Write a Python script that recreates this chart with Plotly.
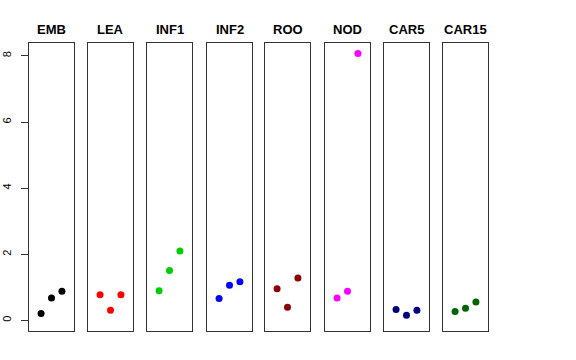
import plotly.graph_objects as go

categories = ["EMB", "LEA", "INF1", "INF2", "ROO", "NOD", "CAR5", "CAR15"]
values = {
    "EMB": [0.21, 0.68, 0.88],
    "LEA": [0.78, 0.31, 0.78],
    "INF1": [0.90, 1.51, 2.10],
    "INF2": [0.66, 1.06, 1.17],
    "ROO": [0.96, 0.40, 1.28],
    "NOD": [0.68, 0.88, 8.07],
    "CAR5": [0.33, 0.16, 0.31],
    "CAR15": [0.27, 0.37, 0.56],
}
replicates = [1, 2, 3]
colors = ["#000000", "#FF0000", "#00CD00", "#0000FF", "#8B0000", "#FF00FF", "#000080", "#006400"]
y_ticks = [0, 2, 4, 6, 8]

W, H = 576, 360
panel_left = [29, 88, 147, 207, 265, 325, 384, 443]
panel_w = 45
top_px, bot_px = 43, 331
title_px = 29

fig = go.Figure()
layout = dict(
    width=W, height=H,
    margin=dict(l=0, r=0, t=0, b=0, autoexpand=False),
    plot_bgcolor="white", paper_bgcolor="white",
    showlegend=False,
    template="none",
    font=dict(family="Liberation Sans, Arial, sans-serif", color="black"),
)
annotations = []
for i, cat in enumerate(categories):
    xa = "xaxis" if i == 0 else f"xaxis{i+1}"
    ya = "yaxis" if i == 0 else f"yaxis{i+1}"
    xr = "x" if i == 0 else f"x{i+1}"
    yr = "y" if i == 0 else f"y{i+1}"
    x0 = panel_left[i] / W
    x1 = (panel_left[i] + panel_w) / W
    layout[xa] = dict(domain=[x0, x1], range=[-0.16, 4.16], showgrid=False, zeroline=False,
                      showticklabels=False, ticks="", showline=True, mirror=True,
                      linecolor="#333333", linewidth=1, anchor=yr, fixedrange=True,
                      automargin=False)
    ydict = dict(domain=[1 - bot_px / H, 1 - top_px / H], range=[-0.32, 8.39],
                 showgrid=False, zeroline=False, showline=True, mirror=True,
                 linecolor="#333333", linewidth=1, anchor=xr, automargin=False)
    if i == 0:
        ydict.update(tickvals=y_ticks, ticktext=[str(v) for v in y_ticks], ticks="outside",
                     ticklen=7, tickcolor="#333333", tickangle=-90, ticklabelstandoff=6,
                     tickfont=dict(size=11, color="black"))
    else:
        ydict.update(showticklabels=False, ticks="")
    layout[ya] = ydict
    fig.add_trace(go.Scatter(x=replicates, y=values[cat], mode="markers",
                             marker=dict(color=colors[i], size=7),
                             xaxis=xr, yaxis=yr, hoverinfo="y"))
    annotations.append(dict(x=(x0 + x1) / 2, y=1 - title_px / H, xref="paper", yref="paper",
                            text=f"<b>{cat}</b>", showarrow=False,
                            font=dict(size=13, color="black"), xanchor="center", yanchor="middle"))
layout["annotations"] = annotations
fig.update_layout(**layout)
fig.write_html("out.html", config={"displayModeBar": False},
               post_script="document.body.style.margin='0';")
